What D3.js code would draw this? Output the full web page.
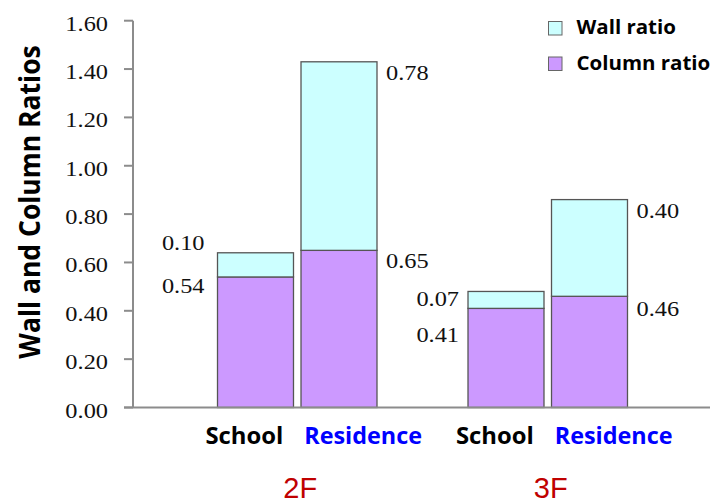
<!DOCTYPE html>
<html>
<head>
<meta charset="utf-8">
<script src="https://cdn.jsdelivr.net/npm/d3@7"></script>
<style>
  html, body { margin: 0; padding: 0; background: #fff; }
  svg { display: block; }
</style>
</head>
<body>
<svg id="chart" width="710" height="504"></svg>
<script>
// Floors and building types, one entry per bar
const floors = ["2F", "3F"];
const buildingTypes = ["School", "Residence"];
const barFloor = ["2F", "2F", "3F", "3F"];
const barType = ["School", "Residence", "School", "Residence"];

// Stacked ratios: column ratio at the bottom, wall ratio on top
const columnRatio = [0.54, 0.65, 0.41, 0.46];
const wallRatio = [0.10, 0.78, 0.07, 0.40];

// Axis ticks
const yTicks = [0, 0.2, 0.4, 0.6, 0.8, 1.0, 1.2, 1.4, 1.6];

const seriesNames = ["Wall ratio", "Column ratio"];
const seriesColors = { "Wall ratio": "#ccffff", "Column ratio": "#cc99ff" };
const typeColors = { School: "#000000", Residence: "#0000ff" };

const svg = d3.select("#chart");

const y = d3.scaleLinear().domain([0, 1.6]).range([407.5, 20.7]);
const xFloor = d3.scaleBand().domain(floors).range([172, 673]).padding(0);
const xType = d3.scaleBand().domain(buildingTypes)
  .range([0, xFloor.bandwidth()])
  .paddingInner(0.09).paddingOuter(0.545);

const serifFont = "'Liberation Serif', 'Times New Roman', serif";
const sansFont = "'Open Sans', 'Noto Sans', sans-serif";
const SERIF_STRETCH = 1.16;

// places a text node at (x, y), widened horizontally by sx
function placeText(g, x, yy, txt, opts) {
  const t = g.append("text")
    .attr("transform", `translate(${x},${yy}) scale(${opts.sx || 1},1)`)
    .attr("text-anchor", opts.anchor || "start")
    .style("font-family", opts.family)
    .style("font-size", opts.size + "px")
    .style("font-weight", opts.weight || "normal")
    .attr("fill", opts.fill || "#000")
    .text(txt);
  return t;
}

// Y axis
const axisG = svg.append("g");
const axisColor = "#8c8c8c";
axisG.append("line")
  .attr("x1", 133).attr("x2", 133)
  .attr("y1", y(1.6)).attr("y2", y(0))
  .attr("stroke", axisColor).attr("stroke-width", 2);
yTicks.forEach(t => {
  axisG.append("line")
    .attr("x1", 124).attr("x2", 133)
    .attr("y1", y(t)).attr("y2", y(t))
    .attr("stroke", axisColor).attr("stroke-width", 2);
  placeText(axisG, 108, y(t) + 10, d3.format(".2f")(t),
    { anchor: "end", family: serifFont, size: 21, sx: SERIF_STRETCH, fill: "#111" });
});

// Y axis title
svg.append("text")
  .attr("transform", "translate(40,202) rotate(-90) scale(1,1.1)")
  .attr("text-anchor", "middle")
  .style("font-family", sansFont)
  .style("font-size", "26.5px")
  .style("font-weight", "700")
  .attr("fill", "#000")
  .text("Wall and Column Ratios");

// Bars
const bars = barType.map((t, i) => ({
  type: t,
  floor: barFloor[i],
  column: columnRatio[i],
  wall: wallRatio[i],
  x: xFloor(barFloor[i]) + xType(t),
  w: xType.bandwidth()
}));

const barG = svg.append("g");
bars.forEach(b => {
  barG.append("rect")
    .attr("x", b.x).attr("width", b.w)
    .attr("y", y(b.column)).attr("height", y(0) - y(b.column))
    .attr("fill", seriesColors["Column ratio"])
    .attr("stroke", "#555").attr("stroke-width", 1.3);
  barG.append("rect")
    .attr("x", b.x).attr("width", b.w)
    .attr("y", y(b.column + b.wall)).attr("height", y(b.column) - y(b.column + b.wall))
    .attr("fill", seriesColors["Wall ratio"])
    .attr("stroke", "#555").attr("stroke-width", 1.3);
});

// X baseline
svg.append("line")
  .attr("x1", 124).attr("x2", 710)
  .attr("y1", y(0)).attr("y2", y(0))
  .attr("stroke", axisColor).attr("stroke-width", 2);

// Value labels: school bars labelled on the left, residences on the right.
// Vertical offsets (px) from the top of each segment to the label centre.
const labelOffsets = [
  { dx: -13, wall: -10, column: 9 },
  { dx: 9, wall: 11.5, column: 11 },
  { dx: -9, wall: 8, column: 27 },
  { dx: 9, wall: 11.5, column: 13 }
];
const valG = svg.append("g");
bars.forEach((b, i) => {
  const o = labelOffsets[i];
  const left = b.type === "School";
  const lx = left ? b.x + o.dx : b.x + b.w + o.dx;
  const anchor = left ? "end" : "start";
  const style = { anchor, family: serifFont, size: 21, sx: SERIF_STRETCH, fill: "#111" };
  placeText(valG, lx, y(b.column + b.wall) + o.wall + 7, d3.format(".2f")(b.wall), style);
  placeText(valG, lx, y(b.column) + o.column + 7, d3.format(".2f")(b.column), style);
});

// Category labels under each floor
const catG = svg.append("g");
floors.forEach(f => {
  const c = xFloor(f) + xFloor.bandwidth() / 2;
  placeText(catG, c - 14, 444, "School",
    { anchor: "end", family: sansFont, size: 22.5, weight: 700, sx: 1.06, fill: typeColors.School });
  placeText(catG, c + 7, 444, "Residence",
    { anchor: "start", family: sansFont, size: 22.5, weight: 700, sx: 1.04, fill: typeColors.Residence });
  placeText(catG, c + 3, 498, f,
    { anchor: "middle", family: "'Liberation Sans', Arial, sans-serif", size: 29, fill: "#c00000" });
});

// Legend
const legG = svg.append("g");
seriesNames.forEach((s, i) => {
  const ly = 21.5 + i * 35.5;
  legG.append("rect")
    .attr("x", 548.5).attr("y", ly).attr("width", 13.5).attr("height", 13.5)
    .attr("fill", seriesColors[s]).attr("stroke", "#666").attr("stroke-width", 1);
  placeText(legG, 576.5, ly + 12.5, s,
    { anchor: "start", family: sansFont, size: 19.5, weight: 700, sx: 1.05, fill: "#000" });
});
</script>
</body>
</html>
